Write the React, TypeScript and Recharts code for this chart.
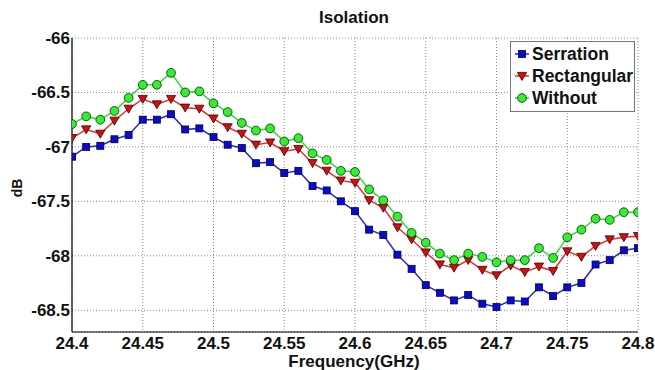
import React from 'react'
import {
  LineChart, Line, XAxis, YAxis, CartesianGrid,
} from 'recharts'

const freq = [
  24.4, 24.41, 24.42, 24.43, 24.44, 24.45, 24.46, 24.47, 24.48, 24.49,
  24.5, 24.51, 24.52, 24.53, 24.54, 24.55, 24.56, 24.57, 24.58, 24.59,
  24.6, 24.61, 24.62, 24.63, 24.64, 24.65, 24.66, 24.67, 24.68, 24.69,
  24.7, 24.71, 24.72, 24.73, 24.74, 24.75, 24.76, 24.77, 24.78, 24.79, 24.8,
]

const serration = [
  -67.09, -67.0, -66.99, -66.93, -66.89, -66.75, -66.75, -66.7, -66.84, -66.83,
  -66.91, -66.98, -67.01, -67.15, -67.14, -67.24, -67.22, -67.36, -67.4, -67.5,
  -67.59, -67.76, -67.81, -67.99, -68.12, -68.27, -68.34, -68.41, -68.36, -68.44,
  -68.47, -68.41, -68.42, -68.29, -68.37, -68.29, -68.25, -68.08, -68.04, -67.95, -67.93,
]

const rectangular = [
  -66.92, -66.84, -66.88, -66.76, -66.65, -66.56, -66.61, -66.56, -66.64, -66.65,
  -66.74, -66.82, -66.88, -66.98, -66.96, -67.04, -67.02, -67.15, -67.22, -67.31,
  -67.33, -67.49, -67.56, -67.74, -67.85, -67.97, -68.08, -68.11, -68.04, -68.13,
  -68.18, -68.09, -68.15, -68.1, -68.14, -67.96, -68.01, -67.91, -67.85, -67.83, -67.82,
]

const without = [
  -66.79, -66.72, -66.75, -66.67, -66.55, -66.43, -66.43, -66.32, -66.5, -66.49,
  -66.6, -66.68, -66.78, -66.85, -66.83, -66.95, -66.92, -67.06, -67.12, -67.22,
  -67.23, -67.39, -67.49, -67.64, -67.79, -67.88, -67.98, -68.04, -67.98, -68.01,
  -68.06, -68.04, -68.04, -67.93, -68.02, -67.83, -67.76, -67.66, -67.67, -67.6, -67.6,
]

const xTicks = [24.4, 24.45, 24.5, 24.55, 24.6, 24.65, 24.7, 24.75, 24.8]
const yTicks = [-68.5, -68, -67.5, -67, -66.5, -66]

const data = freq.map((f, i) => ({
  f, serration: serration[i], rectangular: rectangular[i], without: without[i],
}))

const FONT = '"Liberation Sans", Arial, sans-serif'

function Square({ cx, cy }: any) {
  if (cx == null || cy == null) return null
  return <rect x={cx - 3.5} y={cy - 3.5} width={7} height={7} fill="#0a0ad0" stroke="#000040" strokeWidth={0.8} />
}

function TriDown({ cx, cy }: any) {
  if (cx == null || cy == null) return null
  return (
    <polygon
      points={`${cx - 4.6},${cy - 3.6} ${cx + 4.6},${cy - 3.6} ${cx},${cy + 4.4}`}
      fill="#d01010" stroke="#400000" strokeWidth={0.8}
    />
  )
}

function Dot({ cx, cy }: any) {
  if (cx == null || cy == null) return null
  return <circle cx={cx} cy={cy} r={4.4} fill="#33ee33" stroke="#003000" strokeWidth={0.8} />
}

const legendItems = [
  { name: 'Serration', line: '#2828c8', mark: 'sq' },
  { name: 'Rectangular', line: '#e03030', mark: 'tri' },
  { name: 'Without', line: '#3ad83a', mark: 'dot' },
]

// legend box sits inside the plot, top-right, like matlab's 'NorthEast'
function IsoLegend() {
  return (
    <div style={{
      position: 'absolute', left: 510, top: 41, width: 123, padding: '1px 0 2px 0',
      background: '#fff', border: '1px solid #777',
      fontFamily: FONT, fontWeight: 700, fontSize: 17.5, lineHeight: '22px', color: '#111',
    }}>
      {legendItems.map((it) => (
        <div key={it.name} style={{ display: 'flex', alignItems: 'center', height: 22 }}>
          <svg width={19} height={14} style={{ marginLeft: 2 }}>
            <line x1={2} y1={7} x2={16} y2={7} stroke={it.line} strokeWidth={1.5} />
            {it.mark === 'sq' && <Square cx={9} cy={7} />}
            {it.mark === 'tri' && <TriDown cx={9} cy={7} />}
            {it.mark === 'dot' && <Dot cx={9} cy={7} />}
          </svg>
          <span>{it.name}</span>
        </div>
      ))}
    </div>
  )
}

export default function App() {
  return (
    <div style={{ position: 'absolute', left: 0, top: 0, width: 655, height: 370, background: '#fff' }}>
      <LineChart
        width={655} height={370} data={data}
        margin={{ top: 38, right: 17, left: 0, bottom: 0 }}
        style={{ fontFamily: FONT }}
      >
        <CartesianGrid stroke="#8a8a8a" strokeDasharray="1 2" />
        <XAxis
          dataKey="f" type="number" domain={[24.4, 24.8]} ticks={xTicks}
          tickFormatter={(v: number) => String(+v.toFixed(2))}
          height={38} tickSize={0} tickMargin={5} allowDataOverflow
          axisLine={{ stroke: '#000', strokeWidth: 1.2 }}
          tick={{ fill: '#111', fontSize: 17, fontWeight: 700 }}
        />
        <YAxis
          type="number" domain={[-68.7, -66]} ticks={yTicks} allowDataOverflow
          width={72} tickSize={0} tickMargin={2}
          axisLine={{ stroke: '#000', strokeWidth: 1.2 }}
          tick={{ fill: '#111', fontSize: 17, fontWeight: 700 }}
        />
        <Line
          dataKey="serration" name="Serration" stroke="#2828c8" strokeWidth={1.5}
          dot={<Square />} isAnimationActive={false}
        />
        <Line
          dataKey="rectangular" name="Rectangular" stroke="#e03030" strokeWidth={1.5}
          dot={<TriDown />} isAnimationActive={false}
        />
        <Line
          dataKey="without" name="Without" stroke="#3ad83a" strokeWidth={1.5}
          dot={<Dot />} isAnimationActive={false}
        />
        <text x={354} y={23} textAnchor="middle" fontFamily={FONT} fontWeight={700} fontSize={17} fill="#111">
          Isolation
        </text>
        <text x={354} y={367} textAnchor="middle" fontFamily={FONT} fontWeight={700} fontSize={17} fill="#111">
          Frequency(GHz)
        </text>
        <text
          x={17} y={188} textAnchor="middle" dominantBaseline="central"
          transform="rotate(-90, 17, 188)"
          fontFamily={FONT} fontWeight={700} fontSize={14} fill="#111"
        >
          dB
        </text>
      </LineChart>
      <IsoLegend />
    </div>
  )
}
